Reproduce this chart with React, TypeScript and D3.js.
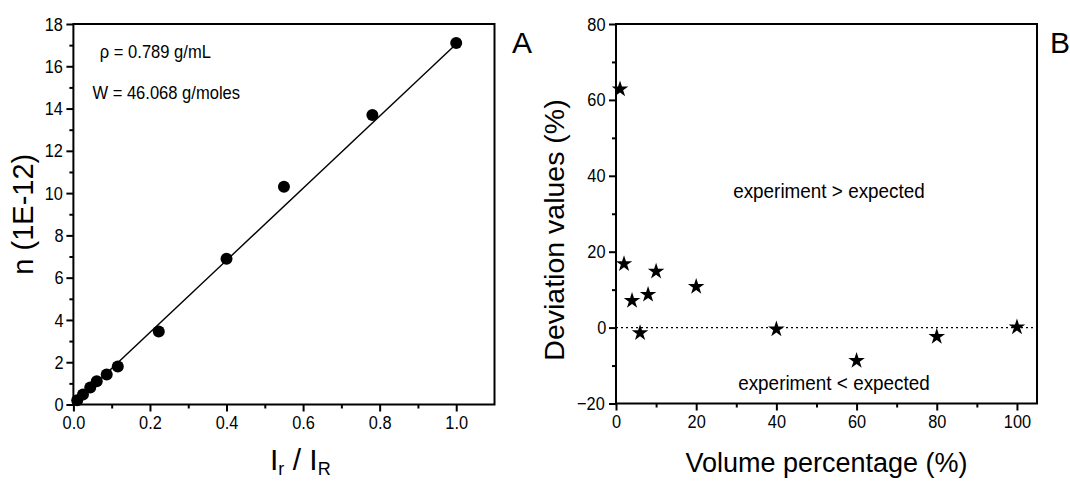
import React, { useEffect, useRef } from 'react';
import * as d3 from 'd3';

// panel A: n (1E-12) against Ir / IR
const intensityRatio = [0.01, 0.025, 0.044, 0.061, 0.087, 0.116, 0.223, 0.4, 0.55, 0.781, 1.0];
const moleculeCount = [0.2, 0.47, 0.8, 1.1, 1.42, 1.8, 3.45, 6.9, 10.3, 13.7, 17.1];
const fitSlope = 17.05;
const fitIntercept = 0;
const fitFrom = 0;
const fitTo = 1.0;
const ticksAX = [0, 0.2, 0.4, 0.6, 0.8, 1.0];
const minorAX = [0.1, 0.3, 0.5, 0.7, 0.9];
const ticksAY = [0, 2, 4, 6, 8, 10, 12, 14, 16, 18];
const minorAY = [1, 3, 5, 7, 9, 11, 13, 15, 17];
const notesA = ['\u03c1 = 0.789 g/mL', 'W = 46.068 g/moles'];

// panel B: deviation against volume percentage
const volumePct = [1, 2, 4, 6, 8, 10, 20, 40, 60, 80, 100];
const deviation = [62.8, 16.8, 7.1, -1.4, 8.7, 14.8, 10.8, -0.4, -8.7, -2.4, 0.1];
const ticksBX = [0, 20, 40, 60, 80, 100];
const minorBX = [10, 30, 50, 70, 90];
const ticksBY = [-20, 0, 20, 40, 60, 80];
const minorBY = [-10, 10, 30, 50, 70];
const notesB = ['experiment > expected', 'experiment < expected'];

const FONT = "'Liberation Sans', Arial, Helvetica, sans-serif";

// the original's lettering is a little narrower than Arial
const narrow = (sel, k) =>
  sel.style('transform-box', 'fill-box').style('transform-origin', 'center').style('transform', `scaleX(${k})`);

function drawAxes(g, x, y, major, minor, fmt) {
  const [x0, x1] = x.range();
  const [y0, y1] = y.range();

  const styleAxis = (sel) => {
    sel.select('.domain').remove();
    sel.selectAll('line').attr('stroke', '#000').attr('stroke-width', 2);
    sel.selectAll('text')
      .attr('font-family', FONT)
      .attr('font-size', 19)
      .attr('fill', '#000')
      .call(narrow, 0.86);
  };

  g.append('g')
    .attr('transform', `translate(0,${y0})`)
    .call(d3.axisBottom(x).tickValues(major.x).tickFormat(fmt.x).tickSize(7).tickPadding(4).tickSizeOuter(0))
    .call(styleAxis);
  g.append('g')
    .attr('transform', `translate(0,${y0})`)
    .call(d3.axisBottom(x).tickValues(minor.x).tickFormat(() => '').tickSize(4).tickSizeOuter(0))
    .call(styleAxis);
  g.append('g')
    .attr('transform', `translate(${x0},0)`)
    .call(d3.axisLeft(y).tickValues(major.y).tickFormat(fmt.y).tickSize(7).tickPadding(2).tickSizeOuter(0))
    .call(styleAxis);
  g.append('g')
    .attr('transform', `translate(${x0},0)`)
    .call(d3.axisLeft(y).tickValues(minor.y).tickFormat(() => '').tickSize(4).tickSizeOuter(0))
    .call(styleAxis);

  g.append('rect')
    .attr('x', x0)
    .attr('y', y1)
    .attr('width', x1 - x0)
    .attr('height', y0 - y1)
    .attr('fill', 'none')
    .attr('stroke', '#000')
    .attr('stroke-width', 2);
}

const App = () => {
  const ref = useRef(null);

  useEffect(() => {
    const svg = d3.select(ref.current);
    svg.selectAll('*').remove();

    // ---------- panel A ----------
    const xA = d3.scaleLinear().domain([0, 1.1]).range([73.4, 494.5]);
    const yA = d3.scaleLinear().domain([0, 18]).range([404.5, 24]);
    const gA = svg.append('g');

    drawAxes(gA, xA, yA, { x: ticksAX, y: ticksAY }, { x: minorAX, y: minorAY }, { x: d3.format('.1f'), y: d3.format('d') });

    const fit = d3.line().x(d => xA(d)).y(d => yA(fitIntercept + fitSlope * d));
    gA.append('path')
      .datum([fitFrom, fitTo])
      .attr('fill', 'none')
      .attr('stroke', '#000')
      .attr('stroke-width', 1.4)
      .attr('d', fit);

    gA.selectAll('.dot')
      .data(intensityRatio)
      .enter()
      .append('circle')
      .attr('class', 'dot')
      .attr('cx', d => xA(d))
      .attr('cy', (d, i) => yA(moleculeCount[i]))
      .attr('r', 6)
      .attr('fill', '#000');

    gA.append('text').attr('x', 95).attr('y', 58).attr('font-size', 18).call(narrow, 0.92).text(notesA[0]);
    gA.append('text').attr('x', 86).attr('y', 99).attr('font-size', 18).call(narrow, 0.92).text(notesA[1]);

    gA.append('text')
      .attr('transform', `translate(33,${(yA.range()[0] + yA.range()[1]) / 2}) rotate(-90)`)
      .attr('text-anchor', 'middle')
      .attr('font-size', 29)
      .text('n (1E-12)');

    const xt = gA.append('text').attr('x', 270).attr('y', 470).attr('font-size', 30);
    xt.append('tspan').text('I');
    xt.append('tspan').attr('font-size', 18).attr('dy', 5).text('r');
    xt.append('tspan').attr('dy', -5).text(' / I');
    xt.append('tspan').attr('font-size', 18).attr('dy', 5).text('R');

    gA.append('text').attr('x', 512).attr('y', 53).attr('font-size', 30).text('A');

    // ---------- panel B ----------
    const xB = d3.scaleLinear().domain([0, 105]).range([616, 1037]);
    const yB = d3.scaleLinear().domain([-20, 80]).range([403.5, 24]);
    const gB = svg.append('g');

    drawAxes(gB, xB, yB, { x: ticksBX, y: ticksBY }, { x: minorBX, y: minorBY }, { x: d3.format('d'), y: d3.format('d') });

    gB.append('line')
      .attr('x1', xB.range()[0])
      .attr('x2', xB.range()[1])
      .attr('y1', yB(0))
      .attr('y2', yB(0))
      .attr('stroke', '#000')
      .attr('stroke-width', 1.3)
      .attr('stroke-dasharray', '2,3');

    const star = d3.symbol().type(d3.symbolStar).size(85);
    gB.selectAll('.star')
      .data(volumePct)
      .enter()
      .append('path')
      .attr('class', 'star')
      .attr('transform', (d, i) => `translate(${xB(d)},${yB(deviation[i])})`)
      .attr('d', star)
      .attr('fill', '#000');

    gB.append('text').attr('x', 829).attr('y', 198).attr('text-anchor', 'middle').attr('font-size', 21).call(narrow, 0.9).text(notesB[0]);
    gB.append('text').attr('x', 834).attr('y', 390).attr('text-anchor', 'middle').attr('font-size', 21).call(narrow, 0.9).text(notesB[1]);

    gB.append('text')
      .attr('transform', `translate(564,230) rotate(-90)`)
      .attr('text-anchor', 'middle')
      .attr('font-size', 28.5)
      .text('Deviation values (%)');

    gB.append('text')
      .attr('x', (xB.range()[0] + xB.range()[1]) / 2)
      .attr('y', 472)
      .attr('text-anchor', 'middle')
      .attr('font-size', 27)
      .text('Volume percentage (%)');

    gB.append('text').attr('x', 1050).attr('y', 53).attr('font-size', 30).text('B');
  }, []);

  return (
    <svg
      ref={ref}
      width={1070}
      height={481}
      fontFamily={FONT}
      style={{ position: 'absolute', left: 0, top: 0, display: 'block', background: '#fff' }}
    />
  );
};

export default App;
